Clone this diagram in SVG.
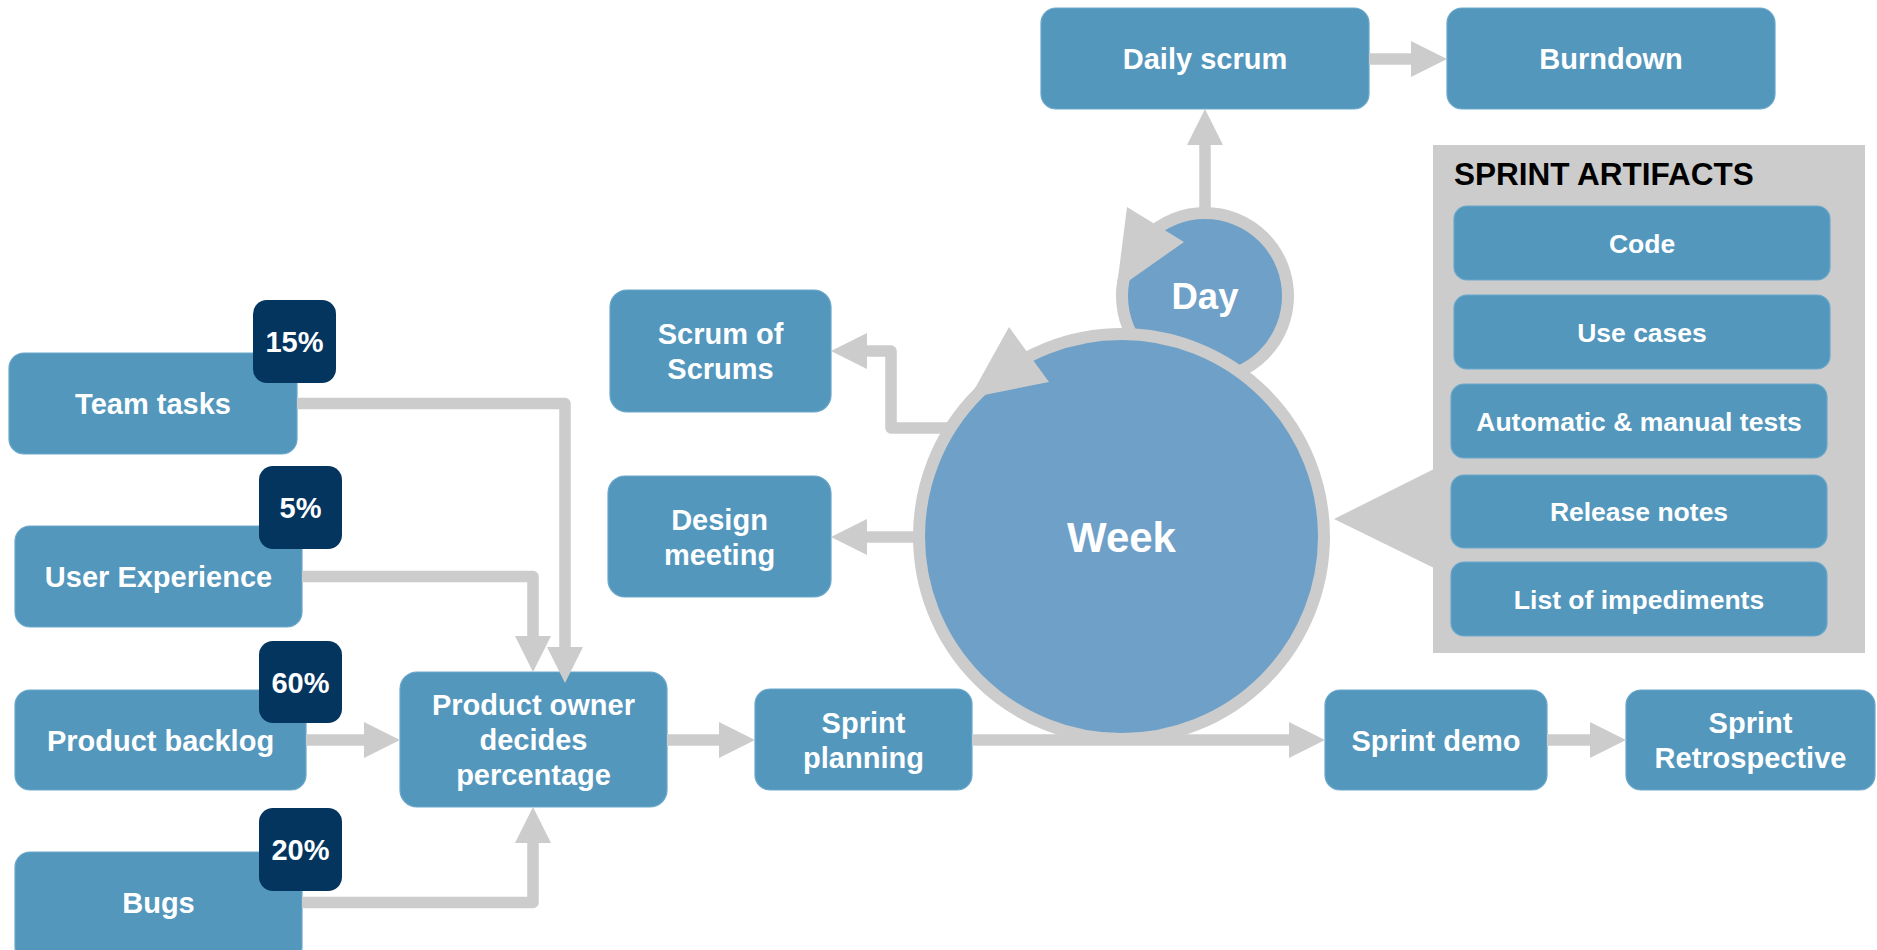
<svg xmlns="http://www.w3.org/2000/svg" width="1877" height="950" viewBox="0 0 1877 950">
<defs>
<style>
.box{fill:#5397bd;stroke:#6aa7cb;stroke-width:1.2}
.badge{fill:#03355f}
.t{font-family:"Liberation Sans",Arial,sans-serif;font-weight:bold;fill:#ffffff;text-anchor:middle;font-size:29px}
.ta{font-size:26.5px}
.circ{fill:#6fa1c8;stroke:#cccccc;stroke-width:12}
.conn{fill:none;stroke:#cccccc;stroke-width:11.5;stroke-linejoin:round}
.gray{fill:#cccccc}
</style>
<marker id="ah" viewBox="0 0 36 36" refX="0" refY="18" markerWidth="36" markerHeight="36" markerUnits="userSpaceOnUse" orient="auto">
<path d="M0,0 L36,18 L0,36 Z" fill="#cccccc"/>
</marker>
</defs>
<rect width="1877" height="950" fill="#ffffff"/>

<g id="sprint-artifacts">
<rect x="1433" y="145" width="432" height="508" class="gray"/>
<polygon points="1434,469 1334,519 1434,568" class="gray"/>
<text x="1454" y="185" font-family="'Liberation Sans',Arial,sans-serif" font-weight="bold" font-size="31.5" fill="#000000">SPRINT ARTIFACTS</text>
</g>
<g id="code"><rect class="box" x="1454" y="206" width="376" height="74" rx="13"/><text class="t ta" x="1642" y="252.5">Code</text></g>
<g id="use-cases"><rect class="box" x="1454" y="295" width="376" height="74" rx="13"/><text class="t ta" x="1642" y="341.5">Use cases</text></g>
<g id="tests"><rect class="box" x="1451" y="384" width="376" height="74" rx="13"/><text class="t ta" x="1639" y="430.5">Automatic &amp; manual tests</text></g>
<g id="release-notes"><rect class="box" x="1451" y="475" width="376" height="73" rx="13"/><text class="t ta" x="1639" y="521">Release notes</text></g>
<g id="impediments"><rect class="box" x="1451" y="562" width="376" height="74" rx="13"/><text class="t ta" x="1639" y="608.5">List of impediments</text></g>

<g id="day">
<circle class="circ" cx="1205" cy="296" r="83"/>
<polygon class="gray" points="1127,207 1184,242 1130,280 1116,294"/>
<text class="t" x="1205" y="309" style="font-size:36.5px">Day</text>
</g>
<g id="week">
<circle class="circ" cx="1121.5" cy="536.5" r="202.5"/>
<polygon class="gray" points="1009,327 1049,382 984,395 969,399"/>
<text class="t" x="1121.5" y="552" style="font-size:42px">Week</text>
</g>

<g id="team-tasks"><rect class="box" x="9" y="353" width="288" height="101" rx="15"/><text class="t" x="153" y="414">Team tasks</text></g>
<g id="badge-15"><rect class="badge" x="253" y="300" width="83" height="83" rx="14"/><text class="t" x="294.5" y="352">15%</text></g>
<g id="user-experience"><rect class="box" x="15" y="526" width="287" height="101" rx="15"/><text class="t" x="158.5" y="587">User Experience</text></g>
<g id="badge-5"><rect class="badge" x="259" y="466" width="83" height="83" rx="14"/><text class="t" x="300.5" y="518">5%</text></g>
<g id="product-backlog"><rect class="box" x="15" y="690" width="291" height="100" rx="15"/><text class="t" x="160.5" y="750.5">Product backlog</text></g>
<g id="badge-60"><rect class="badge" x="259" y="641" width="83" height="82" rx="14"/><text class="t" x="300.5" y="692.5">60%</text></g>
<g id="bugs"><rect class="box" x="15" y="852" width="287" height="110" rx="15"/><text class="t" x="158.5" y="913">Bugs</text></g>
<g id="badge-20"><rect class="badge" x="259" y="808" width="83" height="83" rx="14"/><text class="t" x="300.5" y="860">20%</text></g>
<g id="product-owner"><rect class="box" x="400" y="672" width="267" height="135" rx="17"/><text class="t" x="533.5" y="715">Product owner</text><text class="t" x="533.5" y="750">decides</text><text class="t" x="533.5" y="785">percentage</text></g>
<g id="sprint-planning"><rect class="box" x="755" y="689" width="217" height="101" rx="15"/><text class="t" x="863.5" y="733">Sprint</text><text class="t" x="863.5" y="768">planning</text></g>
<g id="scrum-of-scrums"><rect class="box" x="610" y="290" width="221" height="122" rx="17"/><text class="t" x="720.5" y="344">Scrum of</text><text class="t" x="720.5" y="379">Scrums</text></g>
<g id="design-meeting"><rect class="box" x="608" y="476" width="223" height="121" rx="17"/><text class="t" x="719.5" y="529.5">Design</text><text class="t" x="719.5" y="564.5">meeting</text></g>
<g id="daily-scrum"><rect class="box" x="1041" y="8" width="328" height="101" rx="15"/><text class="t" x="1205" y="69">Daily scrum</text></g>
<g id="burndown"><rect class="box" x="1447" y="8" width="328" height="101" rx="15"/><text class="t" x="1611" y="69">Burndown</text></g>
<g id="sprint-demo"><rect class="box" x="1325" y="690" width="222" height="100" rx="15"/><text class="t" x="1436" y="750.5">Sprint demo</text></g>
<g id="sprint-retrospective"><rect class="box" x="1626" y="690" width="249" height="100" rx="15"/><text class="t" x="1750.5" y="733">Sprint</text><text class="t" x="1750.5" y="768">Retrospective</text></g>

<g id="connectors">
<path class="conn" marker-end="url(#ah)" d="M297,403.5 H565 V647"/>
<path class="conn" marker-end="url(#ah)" d="M302,576.5 H533 V636"/>
<path class="conn" marker-end="url(#ah)" d="M302,902.5 H533 V843"/>
<path class="conn" marker-end="url(#ah)" d="M306,740 H364"/>
<path class="conn" marker-end="url(#ah)" d="M667,740 H719"/>
<path class="conn" marker-end="url(#ah)" d="M972,740 H1289"/>
<path class="conn" marker-end="url(#ah)" d="M1547,740 H1590"/>
<path class="conn" marker-end="url(#ah)" d="M947,428 H891 V351 H867"/>
<path class="conn" marker-end="url(#ah)" d="M918,537 H867"/>
<path class="conn" marker-end="url(#ah)" d="M1205,210 V145"/>
<path class="conn" marker-end="url(#ah)" d="M1369,59 H1411"/>
</g>
</svg>
